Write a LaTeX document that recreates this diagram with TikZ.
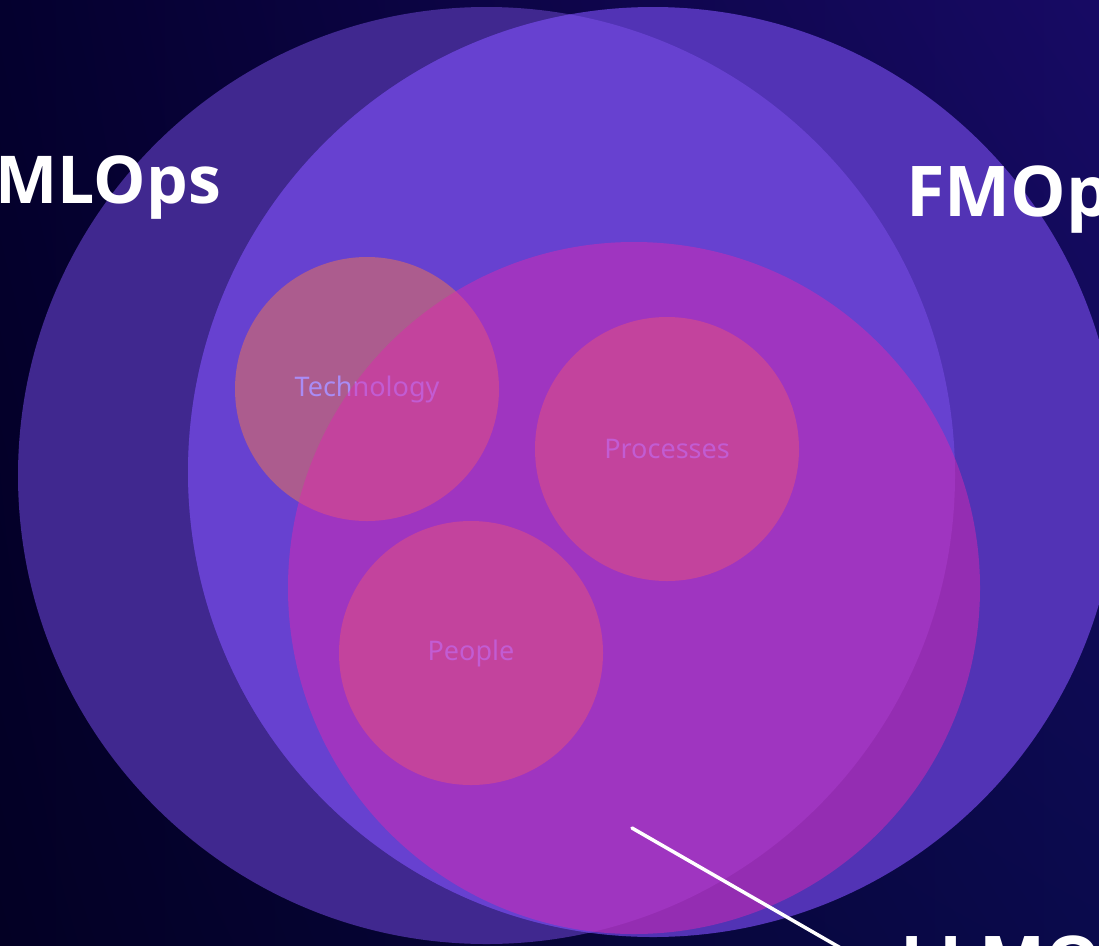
\documentclass[tikz,border=0pt]{standalone}
\usepackage{fontspec}
\usetikzlibrary{shadings}
\setmainfont{Noto Sans}
\newfontfamily\labelfont{Open Sans}
\definecolor{bgUL}{RGB}{4,0,46}
\definecolor{bgUR}{RGB}{23,10,100}
\definecolor{bgLL}{RGB}{3,0,36}
\definecolor{bgLR}{RGB}{10,10,76}
\definecolor{colA}{RGB}{64,40,143}
\definecolor{colB}{RGB}{82,51,181}
\definecolor{colAB}{RGB}{103,65,208}
\definecolor{colC}{RGB}{222,40,175}
\definecolor{colSmall}{RGB}{172,92,142}
\definecolor{colSmallText}{RGB}{169,140,245}
\tikzset{
  smallc/.style={circle, minimum size=264pt, inner sep=0pt, fill=colSmall,
    text=colSmallText, font=\fontsize{27}{32}\selectfont},
  biglabel/.style={inner sep=0pt, text=white, font=\labelfont\bfseries\fontsize{#1}{#1}\selectfont},
  pointer/.style={draw=white, line width=3.5pt, line cap=round}
}
\begin{document}
\begin{tikzpicture}[x=1pt,y=-1pt]
\useasboundingbox (0,0) rectangle (1099,945);
\clip (0,0) rectangle (1099,945);
\shade[upper left=bgUL, upper right=bgUR, lower left=bgLL, lower right=bgLR] (0,0) rectangle (1099,945);
% big circles
\fill[colA] (486.5,475.5) circle[radius=468.5pt];
\fill[colB] (653,472) circle[radius=465pt];
\begin{scope}
  \clip (486.5,475.5) circle[radius=468.5pt];
  \fill[colAB] (653,472) circle[radius=465pt];
\end{scope}
% small circles
\node[smallc] (tech) at (367,389) {Technology};
\node[smallc] (proc) at (667,449) {Processes};
\node[smallc] (peop) at (471,653) {People};
% LLMOps circle
\fill[colC, fill opacity=0.48] (634,588) circle[radius=346pt];
% labels
\node[biglabel=66, anchor=base east] (ml) at (221,203) {MLOps};
\node[biglabel=70, anchor=base west] (fm) at (906,216) {FMOps};
\node[biglabel=70, anchor=base west] (llm) at (900,986) {LLMOps};
\coordinate (ls) at (632,828);
\coordinate (le) at (872,966);
\draw[pointer] (ls) -- (le);
\end{tikzpicture}
\end{document}
